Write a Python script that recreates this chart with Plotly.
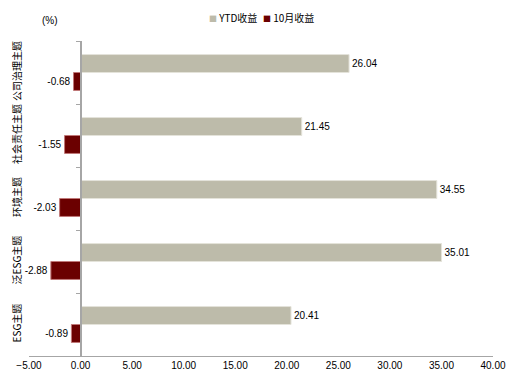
import plotly.graph_objects as go

categories = ["公司治理主题", "社会责任主题", "环境主题", "泛ESG主题", "ESG主题"]
ytd = [26.04, 21.45, 34.55, 35.01, 20.41]
oct_ret = [-0.68, -1.55, -2.03, -2.88, -0.89]
x_ticks = [-5, 0, 5, 10, 15, 20, 25, 30, 35, 40]
series_names = ["YTD收益", "10月收益"]

font_txt = "Liberation Sans, Arial, sans-serif"
font_cjk = "Noto Sans CJK SC, sans-serif"
c_ytd = "#BDBBAA"
c_oct = "#6B0000"

fig = go.Figure()
fig.add_trace(go.Bar(
    y=categories, x=ytd, orientation="h", name=series_names[0], showlegend=False,
    marker=dict(color=c_ytd, line=dict(color="#E4E3DA", width=1)),
    text=[f"{v:.2f}" for v in ytd], textposition="outside",
    textfont=dict(family=font_txt, size=10, color="#000000"),
    cliponaxis=False,
))
fig.add_trace(go.Bar(
    y=categories, x=oct_ret, orientation="h", name=series_names[1], showlegend=False,
    marker=dict(color=c_oct, line=dict(color="#C07878", width=1)),
    text=[f"{v:.2f}" for v in oct_ret], textposition="outside",
    textfont=dict(family=font_txt, size=10, color="#000000"),
    cliponaxis=False,
))

fig.update_layout(
    width=523, height=384,
    margin=dict(l=29, r=30, t=41, b=28, autoexpand=False),
    paper_bgcolor="white", plot_bgcolor="white",
    barmode="group", bargap=0.43, bargroupgap=0,
    showlegend=False,
    xaxis=dict(range=[-5, 40], tickvals=x_ticks, tickformat=".2f", automargin=False,
               showgrid=False, zeroline=False, showline=True, linecolor="#A6A6A6",
               linewidth=1, ticks="", tickfont=dict(family=font_txt, size=10, color="#000000")),
    yaxis=dict(autorange="reversed", showgrid=False, zeroline=False, showline=False,
               ticks="", tickangle=-90, automargin=False, ticklabelstandoff=5,
               tickfont=dict(family=font_cjk, size=10, color="#000000")),
    yaxis2=dict(overlaying="y", anchor="free", position=5 / 45, side="left",
                range=[4.5, -0.5], autorange=False, automargin=False,
                tickvals=[-0.5, 0.5, 1.5, 2.5, 3.5, 4.5], showticklabels=False,
                ticks="outside", ticklen=4, tickcolor="#A6A6A6",
                showline=True, linecolor="#A6A6A6", linewidth=2,
                showgrid=False, zeroline=False),
)
fig.add_trace(go.Scatter(x=[None], y=[None], yaxis="y2", showlegend=False, hoverinfo="skip"))
fig.add_annotation(text="(%)", xref="paper", yref="paper", x=0.024, y=1.0, yanchor="middle",
                   yshift=21, showarrow=False, font=dict(family=font_txt, size=10, color="#000000"))

# legend drawn as text with small coloured squares
for name, col, xpos in ((series_names[0], c_ytd, (207 - 29) / 464),
                        (series_names[1], c_oct, (261 - 29) / 464)):
    fig.add_annotation(
        text=f"<span style='color:{col};font-size:8px'>■</span> {name}",
        xref="paper", yref="paper", x=xpos, xanchor="left", y=1.0, yanchor="middle",
        yshift=24, showarrow=False,
        font=dict(family="Noto Sans CJK SC, sans-serif", size=10, color="#000000"))

fig.write_html("out.html", config={"displayModeBar": False},
               post_script="document.body.style.margin='0';document.body.style.padding='0';")
